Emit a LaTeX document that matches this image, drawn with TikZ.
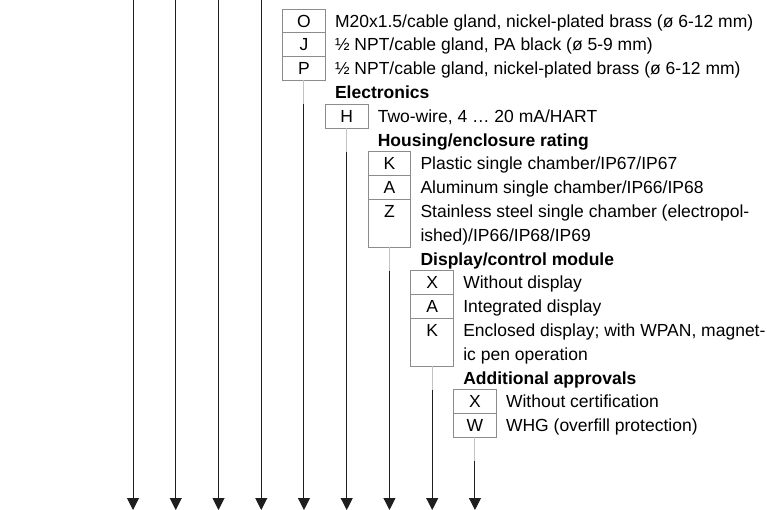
\documentclass[tikz,border=0pt]{standalone}
\usepackage{fontspec}
\setmainfont{Liberation Sans}
\usepackage{tikz}
\usetikzlibrary{arrows.meta,positioning}

\definecolor{cellgray}{RGB}{140,140,140}
\definecolor{stemgray}{RGB}{195,195,195}
\definecolor{linegray}{RGB}{30,30,30}

\tikzset{
  cell/.style={draw=cellgray, line width=0.8pt, minimum width=42.75pt, minimum height=23.8pt,
    inner sep=0pt, outer sep=0pt, text height=12.5pt, text depth=0pt,
    font=\fontsize{17.5}{23.8}\selectfont},
  tallcell/.style={cell, minimum height=47.6pt, text depth=23.8pt},
  desc/.style={anchor=base west, inner sep=0pt, font=\fontsize{17.5}{23.8}\selectfont},
  heading/.style={desc, font=\fontsize{17.5}{23.8}\selectfont\bfseries},
  stem/.style={draw=stemgray, line width=1pt},
  arrowline/.style={draw=linegray, line width=1pt, ->}
}

\begin{document}
\begin{tikzpicture}[x=1pt,y=-1pt,node distance=0pt,>={Triangle[length=12pt,width=12pt]}]
        \useasboundingbox (0,0) rectangle (767,510);
        \coordinate (bottom) at (0,510);
        \node[cell, anchor=north west] (o) at (282.6,9) {O};
        \node[cell, below=of o] (j) {J};
        \node[cell, below=of j] (p) {P};
        \node[desc] (od) at ([xshift=9.5pt]o.base east) {M20x1.5/cable gland, nickel-plated brass (ø 6-12 mm)};
        \node[desc] (jd) at ([xshift=9.5pt]j.base east) {½ NPT/cable gland, PA black (ø 5-9 mm)};
        \node[desc] (pd) at ([xshift=9.5pt]p.base east) {½ NPT/cable gland, nickel-plated brass (ø 6-12 mm)};
        \node[cell, below right=23.8pt and 0pt of p] (h) {H};
        \node[heading] (electronics) at ([xshift=9.5pt,yshift=5.65pt]h.north west) {Electronics};
        \node[desc] (hd) at ([xshift=9.5pt]h.base east) {Two-wire, 4 … 20 mA/HART};
        \node[cell, below right=23.8pt and 0pt of h] (k) {K};
        \node[cell, below=of k] (a) {A};
        \node[tallcell, below=of a] (z) {Z};
        \node[heading] (housing) at ([xshift=9.5pt,yshift=5.65pt]k.north west) {Housing/enclosure rating};
        \node[desc] (kd) at ([xshift=9.5pt]k.base east) {Plastic single chamber/IP67/IP67};
        \node[desc] (ad) at ([xshift=9.5pt]a.base east) {Aluminum single chamber/IP66/IP68};
        \node[desc] (zd) at ([xshift=9.5pt]z.base east) {Stainless steel single chamber (electropol-};
        \node[desc] (zd2) at ([yshift=-23.8pt]zd.base west) {ished)/IP66/IP68/IP69};
        \node[cell, below right=23.8pt and 0pt of z] (x) {X};
        \node[cell, below=of x] (ai) {A};
        \node[tallcell, below=of ai] (ke) {K};
        \node[heading] (display) at ([xshift=9.5pt,yshift=5.65pt]x.north west) {Display/control module};
        \node[desc] (xd) at ([xshift=9.5pt]x.base east) {Without display};
        \node[desc] (aid) at ([xshift=9.5pt]ai.base east) {Integrated display};
        \node[desc] (ked) at ([xshift=9.5pt]ke.base east) {Enclosed display; with WPAN, magnet-};
        \node[desc] (ked2) at ([yshift=-23.8pt]ked.base west) {ic pen operation};
        \node[cell, below right=23.8pt and 0pt of ke] (xc) {X};
        \node[cell, below=of xc] (w) {W};
        \node[heading] (approvals) at ([xshift=9.5pt,yshift=5.65pt]xc.north west) {Additional approvals};
        \node[desc] (xcd) at ([xshift=9.5pt]xc.base east) {Without certification};
        \node[desc] (wd) at ([xshift=9.5pt]w.base east) {WHG (overfill protection)};
        \foreach \i in {0,...,3} {
            \coordinate (top\i) at (133+42.75*\i,0);
            \draw[arrowline] (top\i) -- (top\i |- bottom);
        }
        \foreach \c in {p,h,z,ke,w} {
            \draw[stem] (\c.south) -- ++(0,23.8) coordinate (\c-knee);
            \draw[arrowline] (\c-knee) -- (\c-knee |- bottom);
        }
    \end{tikzpicture}
\end{document}
